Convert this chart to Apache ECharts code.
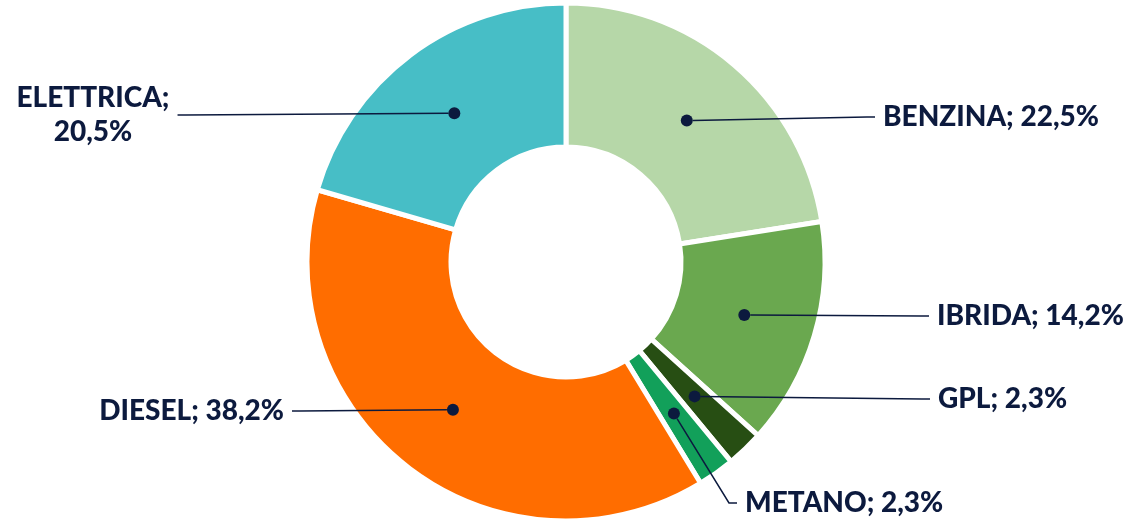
<!DOCTYPE html>
<html>
<head>
<meta charset="utf-8">
<script src="https://cdn.jsdelivr.net/npm/echarts@6/dist/echarts.min.js"></script>
<style>
html,body{margin:0;padding:0;background:#fff;}
#chart{width:1142px;height:523px;}
</style>
</head>
<body>
<div id="chart"></div>
<script>
const categories = ['BENZINA', 'IBRIDA', 'GPL', 'METANO', 'DIESEL', 'ELETTRICA'];
const values = [22.5, 14.2, 2.3, 2.3, 38.2, 20.5];
const colors = ['#b6d7a8', '#6aa84f', '#274e13', '#12a05a', '#ff6d00', '#47bec6'];

const textColor = '#0c1a3e';
const center = [566, 262];

// label placement (x, y, align) per category
const labelPlace = {
  BENZINA:   { x: 875, y: 117, align: 'left' },
  IBRIDA:    { x: 929, y: 316, align: 'left' },
  GPL:       { x: 930, y: 399, align: 'left' },
  METANO:    { x: 737, y: 503, align: 'left' },
  DIESEL:    { x: 292, y: 411, align: 'right' },
  ELETTRICA: { x: 93,  y: 115, align: 'center' }
};

const total = values.reduce((a, b) => a + b, 0);
let cum = 0;
const dotData = values.map((v, i) => {
  const mid = (cum + v / 2) / total * 100;
  cum += v;
  return { name: categories[i], value: [186, mid] };
});

function fmt(v) { return v.toFixed(1).replace('.', ',') + '%'; }

const chart = echarts.init(document.getElementById('chart'));
chart.setOption({
  backgroundColor: '#ffffff',
  animation: false,
  polar: { center: center, radius: 256 },
  angleAxis: { type: 'value', min: 0, max: 100, startAngle: 90, clockwise: true, show: false },
  radiusAxis: { type: 'value', min: 0, max: 256, show: false },
  series: [
    {
      type: 'pie',
      center: center,
      radius: [115, 259],
      startAngle: 90,
      clockwise: true,
      silent: true,
      label: { show: false },
      labelLine: { show: false },
      itemStyle: { borderColor: '#ffffff', borderWidth: 5 },
      data: categories.map((c, i) => ({ name: c, value: values[i], itemStyle: { color: colors[i] } })),
      z: 1
    },
    {
      type: 'scatter',
      coordinateSystem: 'polar',
      symbol: 'circle',
      symbolSize: 12,
      silent: true,
      itemStyle: { color: textColor, opacity: 1 },
      z: 5,
      label: {
        show: true,
        color: textColor,
        opacity: 1,
        fontFamily: 'Lato',
        fontWeight: 900,
        fontSize: 28,
        lineHeight: 34,
        padding: [6, 8, 0, 8],
        formatter: function (p) {
          const i = categories.indexOf(p.name);
          const sep = p.name === 'ELETTRICA' ? '\n' : ' ';
          return p.name + ';' + sep + fmt(values[i]);
        }
      },
      labelLine: {
        show: true,
        length2: 8,
        lineStyle: { color: textColor, width: 1.5, opacity: 1 }
      },
      labelLayout: function (params) {
        const lp = labelPlace[categories[params.dataIndex]];
        return { x: lp.x, y: lp.y, align: lp.align, verticalAlign: 'middle' };
      },
      data: dotData
    }
  ]
});
</script>
</body>
</html>
